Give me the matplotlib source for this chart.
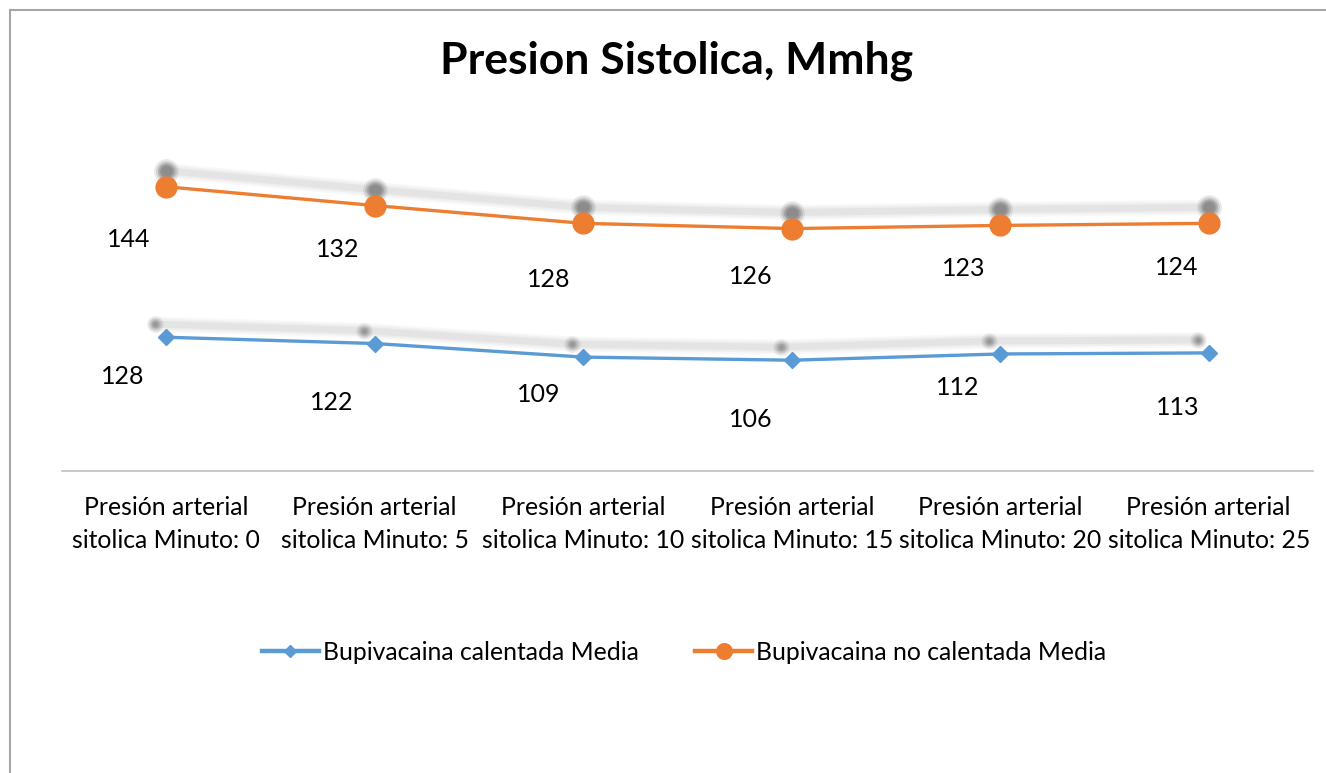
import matplotlib
matplotlib.use("Agg")
import matplotlib.pyplot as plt
from matplotlib.transforms import offset_copy
from matplotlib.lines import Line2D

plt.rcParams['font.family'] = ['Lato', 'DejaVu Sans']

# data (stacked line chart, like the Excel original)
categories = ["Presión arterial\nsitolica Minuto: 0", "Presión arterial\nsitolica Minuto: 5",
              "Presión arterial\nsitolica Minuto: 10", "Presión arterial\nsitolica Minuto: 15",
              "Presión arterial\nsitolica Minuto: 20", "Presión arterial\nsitolica Minuto: 25"]
calentada = [128, 122, 109, 106, 112, 113]
no_calentada = [144, 132, 128, 126, 123, 124]

# label offsets in pixels (dx, dy below the point) - hand placed in the original
calentada_lbl_off = [(-44, 39), (-43, 59), (-45, 37), (-41, 59), (-43, 34), (-31, 55)]
no_calentada_lbl_off = [(-38, 53), (-37, 44), (-35, 56), (-41, 48), (-37, 43), (-32, 44)]

BLUE = "#5B9BD5"
ORANGE = "#ED7D31"

fig = plt.figure(figsize=(13.26, 7.73), dpi=100)
ax = fig.add_axes([62 / 1326, 1 - 471 / 773, (1313 - 62) / 1326, (471 - 157.5) / 773])

x = list(range(len(categories)))
stacked_top = [a + b for a, b in zip(calentada, no_calentada)]


def shadow(ys, dx, dy, ms, mcol):
    tr = offset_copy(ax.transData, fig=fig, x=dx, y=dy, units='dots')
    for lw, al in [(11, 0.05), (8, 0.07), (5, 0.09)]:
        ax.plot(x, ys, color="#808080", lw=lw, alpha=al, transform=tr,
                solid_capstyle='round', zorder=1)
    for s, al in [(ms + 4, 0.12), (ms + 1, 0.2), (ms - 2, 0.3), (ms - 5, 0.3)]:
        ax.plot(x, ys, ls='none', marker='o', ms=s, color=mcol, alpha=al,
                mec='none', transform=tr, zorder=1)


shadow(calentada, -11, 13, 8, "#707070")
shadow(stacked_top, 0, 16, 14, "#606060")

l1, = ax.plot(x, calentada, color=BLUE, lw=2.4, marker='D', ms=8.5, mec=BLUE, zorder=3,
              label="Bupivacaina calentada Media")
l2, = ax.plot(x, stacked_top, color=ORANGE, lw=2.4, marker='o', ms=15, mec=ORANGE, zorder=3,
              label="Bupivacaina no calentada Media")

for i in x:
    dx, dy = calentada_lbl_off[i]
    ax.annotate(str(calentada[i]), (i, calentada[i]), xytext=(dx, -dy), textcoords='offset pixels',
                ha='center', va='center', fontsize=18, color='black')
    dx, dy = no_calentada_lbl_off[i]
    ax.annotate(str(no_calentada[i]), (i, stacked_top[i]), xytext=(dx, -dy), textcoords='offset pixels',
                ha='center', va='center', fontsize=18, color='black')

ax.set_xlim(-0.5, len(categories) - 0.5)
ax.set_ylim(0, 300)
ax.set_yticks([])
ax.set_xticks(x)
ax.set_xticklabels(categories, fontsize=17.8, linespacing=1.5)
ax.tick_params(axis='x', length=0, pad=18)
for sp in ['top', 'right', 'left']:
    ax.spines[sp].set_visible(False)
ax.spines['bottom'].set_color("#BFBFBF")
ax.spines['bottom'].set_linewidth(1.2)

fig.text(677 / 1326, 1 - 61 / 773, "Presion Sistolica, Mmhg", ha='center', va='center',
         fontsize=32, fontweight='bold')

leg = fig.legend(handles=[l1, l2], loc='center', bbox_to_anchor=(684 / 1326, 1 - 652 / 773),
                 ncol=2, frameon=False, fontsize=17.8, handlelength=2.3, columnspacing=2.3,
                 handletextpad=0.15, markerscale=0.75)
for h in leg.legend_handles:
    h.set_linewidth(3.2)

# chart area border (cropped on right and bottom)
fig.add_artist(Line2D([9.5 / 1326, 9.5 / 1326], [0, 1 - 9.5 / 773], transform=fig.transFigure,
                      color="#A6A6A6", lw=1.5))
fig.add_artist(Line2D([9.5 / 1326, 1], [1 - 9.5 / 773, 1 - 9.5 / 773], transform=fig.transFigure,
                      color="#A6A6A6", lw=1.5))

fig.savefig("out.png", dpi=100)
